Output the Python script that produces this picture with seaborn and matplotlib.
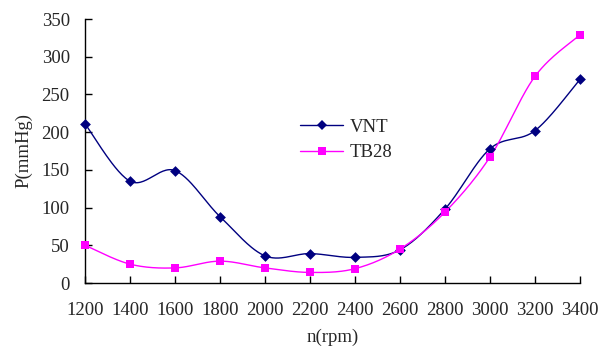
import numpy as np
import pandas as pd
import matplotlib
matplotlib.use("Agg")
import matplotlib.pyplot as plt
import seaborn as sns
from matplotlib.lines import Line2D

rpm = [1200, 1400, 1600, 1800, 2000, 2200, 2400, 2600, 2800, 3000, 3200, 3400]
vnt = [211, 135, 149, 88, 36, 39, 34, 44, 98, 178, 202, 270]
tb28 = [50, 25, 20, 29, 20, 14, 19, 45, 94, 167, 274, 329]
yticks = [0, 50, 100, 150, 200, 250, 300, 350]


def smooth(xs, ys, n=30):
    """Excel-like smoothed line (Catmull-Rom Bezier through the points)."""
    xs = np.asarray(xs, float)
    ys = np.asarray(ys, float)
    P = np.column_stack([xs, ys])
    out = []
    for i in range(len(P) - 1):
        p0 = P[i - 1] if i > 0 else P[i]
        p1 = P[i]
        p2 = P[i + 1]
        p3 = P[i + 2] if i + 2 < len(P) else P[i + 1]
        c1 = p1 + (p2 - p0) / 6.0
        c2 = p2 - (p3 - p1) / 6.0
        t = np.linspace(0, 1, n, endpoint=(i == len(P) - 2))[:, None]
        b = ((1 - t) ** 3) * p1 + 3 * ((1 - t) ** 2) * t * c1 + 3 * (1 - t) * t ** 2 * c2 + t ** 3 * p2
        out.append(b)
    out = np.vstack(out)
    return out[:, 0], out[:, 1]


sns.set_style("white")
plt.rcParams["font.family"] = ["Liberation Serif", "DejaVu Serif"]

fig = plt.figure(figsize=(6.11, 3.49), dpi=100)
ax = fig.add_axes([85 / 611, 1 - 283 / 349, 495 / 611, 264 / 349])

navy = "#000080"
magenta = "#FF00FF"

for ys, col, mk, ms in [(vnt, navy, "D", 30), (tb28, magenta, "s", 36)]:
    sx, sy = smooth(rpm, ys)
    d = pd.DataFrame({"x": sx, "y": sy})
    sns.lineplot(data=d, x="x", y="y", ax=ax, color=col, lw=1.0, sort=False,
                 estimator=None, legend=False)
    pts = pd.DataFrame({"x": rpm, "y": ys})
    sns.scatterplot(data=pts, x="x", y="y", ax=ax, color=col, marker=mk, s=ms,
                    edgecolor=col, linewidth=0, legend=False, clip_on=False, zorder=5)

for line in ax.lines:
    line.set_clip_on(False)

ax.set_xlim(1200, 3400)
ax.set_ylim(0, 350)
ax.set_xticks(rpm)
ax.set_xticklabels([str(r) for r in rpm])
ax.set_yticks(yticks)

for s in ["top", "right"]:
    ax.spines[s].set_visible(False)
for s in ["left", "bottom"]:
    ax.spines[s].set_color("black")
    ax.spines[s].set_linewidth(1.0)

ax.tick_params(axis="x", direction="in", length=5, width=1, color="black",
               labelsize=13.5, pad=14, bottom=True)
ax.tick_params(axis="y", direction="in", length=5, width=1, color="black",
               labelsize=13.5, pad=11, left=True)

ax.set_xlabel("n(rpm)", fontsize=13.5)
ax.set_ylabel("P(mmHg)", fontsize=13.5)
ax.xaxis.set_label_coords(0.501, (283 - 329) / 264)
ax.yaxis.set_label_coords((32 - 85) / 495, 0.5)

handles = [
    Line2D([], [], color=navy, lw=1.0, marker="D", markersize=5, markeredgewidth=0),
    Line2D([], [], color=magenta, lw=1.0, marker="s", markersize=5.5, markeredgewidth=0),
]
ax.legend(handles, ["VNT", "TB28"], loc="center left",
          bbox_to_anchor=((300 - 85) / 495, (283 - 140) / 264), frameon=False,
          fontsize=13.5, handlelength=2.3, handletextpad=0.35, labelspacing=0.45,
          borderaxespad=0, borderpad=0)

fig.savefig("out.png", dpi=100)
